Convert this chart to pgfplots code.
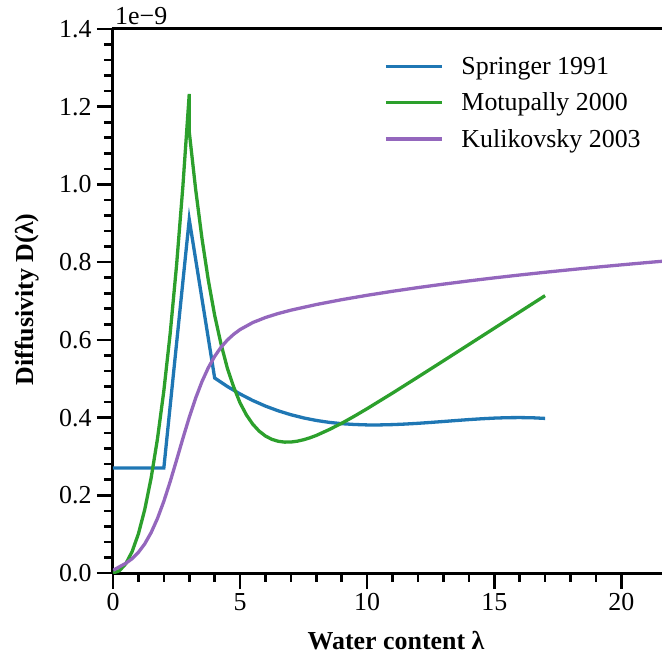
\documentclass[border=0pt]{standalone}
\usepackage{pgfplots}
\pgfplotsset{compat=1.18}
\usepackage{fontspec}
\setmainfont{Liberation Serif}
\definecolor{cblue}{HTML}{1F77B4}
\definecolor{cgreen}{HTML}{2CA02C}
\definecolor{cpurple}{HTML}{9467BD}
\begin{document}
\begin{tikzpicture}
\begin{axis}[name=ax, at={(0bp,0bp)}, anchor=south west,
 width=549bp, height=544bp, scale only axis,
 xmin=0, xmax=21.6, ymin=0, ymax=1.4,
 axis x line*=bottom, axis y line*=left,
 axis line style={line width=3bp, -},
 xtick={0,5,10,15,20}, minor x tick num=4,
 ytick={0,0.2,0.4,0.6,0.8,1.0,1.2,1.4}, minor y tick num=4,
 tick align=outside,
 major tick length=16bp, minor tick length=9bp,
 every tick/.style={black, line width=2.6bp},
 yticklabel style={xshift=-2bp, /pgf/number format/.cd, fixed, fixed zerofill, precision=1},
 /pgf/number format/assume math mode=true,
 tick label style={font=\fontsize{26}{30}\selectfont},
 xticklabel style={yshift=-1bp},
 label style={font=\fontsize{26}{30}\selectfont\bfseries},
 xlabel={Water content λ}, ylabel={Diffusivity D(λ)},
 xlabel style={at={(axis description cs:0.5155,-0.125)}, anchor=center},
 ylabel style={at={(axis description cs:-0.157,0.503)}, anchor=center},
 legend style={at={(0.4936,0.9486)}, anchor=north west, draw=none, fill=none,
   inner sep=0pt, nodes={inner sep=0pt},
   font=\fontsize{26}{30}\selectfont, row sep=17bp, column sep=18bp},
 legend cell align=left,
 legend image code/.code={\draw[#1, line width=3.3bp] (0bp,0bp) -- (56bp,0bp);},
]
\addplot[cblue, line width=3.3bp] coordinates {
(0,0.27) (2,0.27) (3,0.91) (4,0.5019) (4.5,0.4800) (5,0.4607) (5.5,0.4439) (6,0.4295)
(6.5,0.4174) (7,0.4073) (7.5,0.3991) (8,0.3926) (8.5,0.3877) (9,0.3843) (9.5,0.3822)
(10,0.3811) (10.5,0.3811) (11,0.3819) (11.5,0.3833) (12,0.3852) (12.5,0.3875) (13,0.3899)
(13.5,0.3924) (14,0.3948) (14.5,0.3969) (15,0.3986) (15.5,0.3997) (16,0.4000) (16.5,0.3995) (17,0.3978)
};
\addlegendentry{Springer 1991}
\addplot[cgreen, line width=3.3bp] coordinates {
(0,0) (0.25,0.00566) (0.5,0.02345) (0.75,0.05471) (1,0.10086) (1.25,0.16351) (1.5,0.24439)
(1.75,0.34540) (2,0.46863) (2.25,0.61636) (2.5,0.79109) (2.75,0.99553) (3,1.23268)
(3,1.13565) (3.25,0.98833) (3.5,0.86142) (3.75,0.75364) (4,0.66320) (4.25,0.58924) (4.5,0.52688) (4.75,0.47834) (5,0.43768)
(5.25,0.40667) (5.5,0.38288) (5.75,0.36514) (6,0.35246) (6.25,0.34399) (6.5,0.33898) (6.75,0.33684) (7,0.33706)
(7.25,0.33922) (7.5,0.34295) (7.75,0.34797) (8,0.35404) (8.5,0.36890) (9,0.38540) (9.5,0.40369)
(10,0.42295) (11,0.46311) (12,0.50436) (13,0.54603) (14,0.58790) (15,0.62984) (16,0.67181) (17,0.71380)
};
\addlegendentry{Motupally 2000}
\addplot[cpurple, line width=3.3bp] coordinates {
(0.01,0.00703) (0.25,0.01588) (0.5,0.02477) (0.75,0.03676) (1,0.05313) (1.25,0.07513)
(1.5,0.10395) (1.75,0.14040) (2,0.18452) (2.25,0.23523) (2.5,0.29026) (2.75,0.34647)
(3,0.40053) (3.25,0.44976) (3.5,0.49254) (3.75,0.52832) (4,0.55751) (4.25,0.58093) (4.5,0.59958)
(4.75,0.61448) (5,0.62652) (5.5,0.64453) (6,0.65755) (6.5,0.66778) (7,0.67637) (8,0.69090) (9,0.70343) (10,0.71470)
(11,0.72499) (12,0.73452) (13,0.74339) (14,0.75169) (15,0.75952) (16,0.76690) (17,0.77391)
(18,0.78057) (19,0.78692) (20,0.79301) (21,0.79887) (22,0.80443) (24,0.81500)
};
\addlegendentry{Kulikovsky 2003}
\end{axis}
\draw[line width=3bp] ([xshift=-1.5bp]ax.north west) -- (ax.north east);
\node[anchor=south west, inner sep=0pt, font=\fontsize{26}{30}\selectfont] at ([xshift=2bp,yshift=4bp]ax.north west) {1e−9};
\pgfresetboundingbox
\path (-113bp,-87bp) rectangle (549bp,573bp);
\end{tikzpicture}
\end{document}
